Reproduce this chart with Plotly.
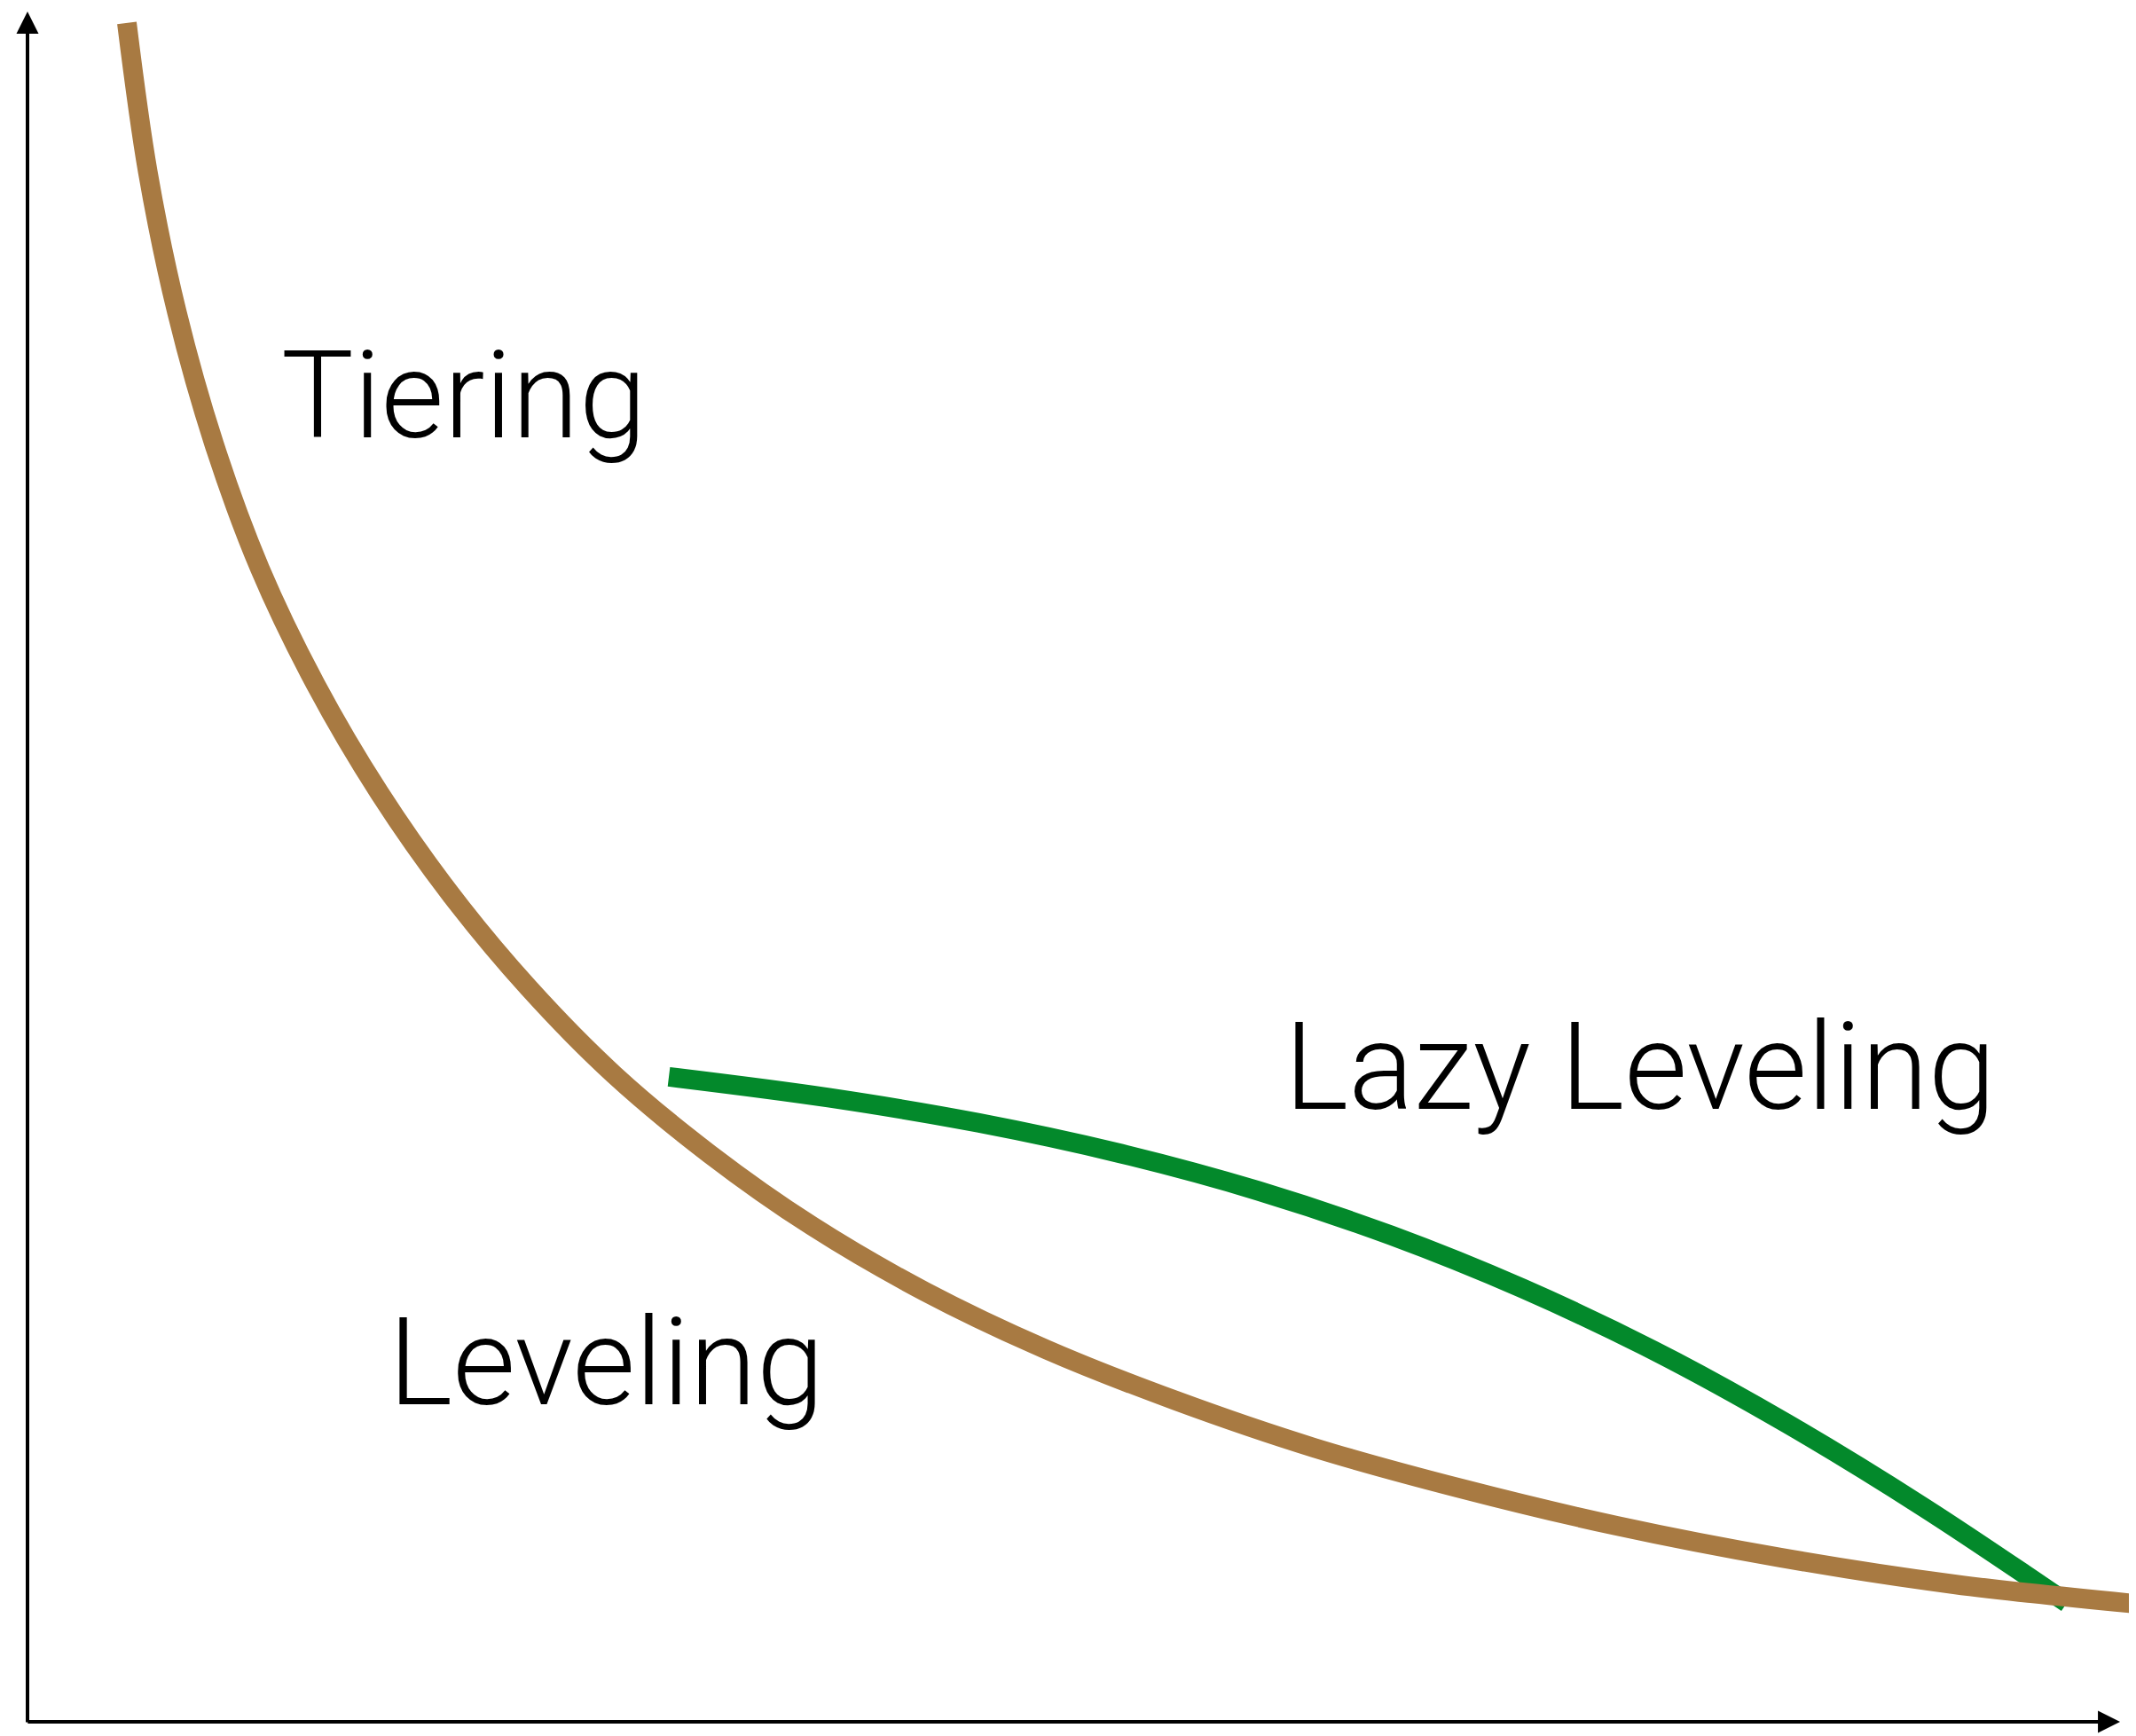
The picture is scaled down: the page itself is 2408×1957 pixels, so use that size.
import plotly.graph_objects as go

# Data (arbitrary units: x and y in 0..100 relative to the axes)
tiering_x = [4.748, 5.748, 7.139, 8.923, 11.106, 13.777, 16.829, 20.220, 23.951, 28.020,
             32.599, 37.490, 42.883, 48.669, 54.871, 61.467, 68.504, 75.943, 83.764,
             92.073, 100.763]
tiering_y = [99.33, 90.63, 82.42, 74.69, 67.43, 60.64, 54.29, 48.39, 42.91, 37.85,
             33.20, 28.99, 25.16, 21.78, 18.78, 16.03, 13.64, 11.46, 9.60,
             8.04, 6.90]

lazy_x = [30.649, 38.279, 45.447, 52.260, 58.805, 65.165, 71.442, 77.715, 84.078,
          90.632, 97.457]
lazy_y = [37.71, 36.49, 35.02, 33.22, 31.05, 28.44, 25.34, 21.71, 17.44, 12.53, 6.95]

labels = ["Tiering", "Leveling", "Lazy Leveling"]

BROWN = "#A87A42"
GREEN = "#03892B"
FONT = "Roboto"

fig = go.Figure()
fig.add_trace(go.Scatter(x=lazy_x, y=lazy_y, mode="lines",
                         line=dict(color=GREEN, width=22, shape="spline", smoothing=1.0),
                         hoverinfo="skip", showlegend=False))
fig.add_trace(go.Scatter(x=tiering_x, y=tiering_y, mode="lines",
                         line=dict(color=BROWN, width=22, shape="spline", smoothing=1.0),
                         hoverinfo="skip", showlegend=False))

# axes with arrows
fig.add_annotation(x=100, y=0, ax=-0.05, ay=0, xref="x", yref="y", axref="x", ayref="y",
                   text="", showarrow=True, arrowhead=2, arrowsize=1.25, arrowwidth=4,
                   arrowcolor="black", standoff=0)
fig.add_annotation(x=0, y=100, ax=0, ay=-0.1, xref="x", yref="y", axref="x", ayref="y",
                   text="", showarrow=True, arrowhead=2, arrowsize=1.25, arrowwidth=4,
                   arrowcolor="black", standoff=0)

label_pos = [(20.86, 77.55), (27.64, 21.0), (77.07, 38.3)]
for txt, (lx, ly) in zip(labels, label_pos):
    fig.add_annotation(x=lx, y=ly, xref="x", yref="y", text=txt, showarrow=False,
                       xanchor="center", yanchor="middle",
                       font=dict(family=FONT, size=137, color="black", weight=300))

fig.update_layout(
    width=2408, height=1957,
    margin=dict(l=0, r=0, t=0, b=0),
    paper_bgcolor="white", plot_bgcolor="white",
    xaxis=dict(range=[-0.975, 101.10], visible=False, fixedrange=True),
    yaxis=dict(range=[-1.245, 100.26], visible=False, fixedrange=True),
    showlegend=False,
)

fig.write_html("out.html")
